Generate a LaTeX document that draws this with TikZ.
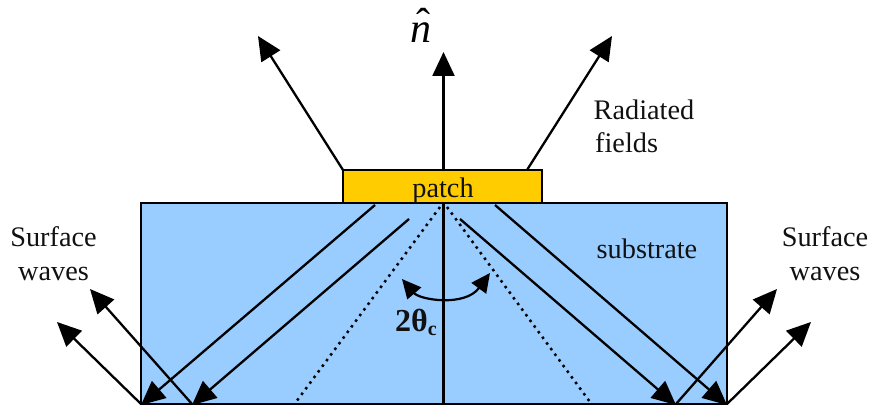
\documentclass[tikz,border=0pt]{standalone}
\usepackage{fontspec}
\setmainfont{Liberation Serif}
\usetikzlibrary{arrows.meta}
\definecolor{subblue}{HTML}{99CCFF}
\definecolor{patchyellow}{HTML}{FFCC00}
\definecolor{inkc}{HTML}{111111}
\tikzset{
  x=1pt,y=-1pt,
  box/.style={draw=black,line width=2.6pt,inner sep=0pt,outer sep=0pt},
  ray/.style={draw=black,line width=2.3pt,-{Triangle[length=24pt,width=22pt]}},
  plainline/.style={draw=black,line width=2.4pt},
  dotline/.style={draw=black,line width=2.5pt,dash pattern=on 2.5pt off 4.5pt},
  label/.style={inner sep=0pt,anchor=base,text=inkc,font=\fontsize{28.3}{28.3}\selectfont},
}
\begin{document}
\begin{tikzpicture}
\useasboundingbox (0,0) rectangle (871,406);
\node[box,fill=subblue,minimum width=586pt,minimum height=201pt] (substrate) at (434,303.5) {};
\node[box,fill=patchyellow,minimum width=199pt,minimum height=33pt] (patchbox) at (442.5,186.5) {};
% named ends
\coordinate (nb) at (443.5,170);
\coordinate (nt) at (443.5,52);
\coordinate (lb) at (343,170);
\coordinate (lt) at (258,36);
\coordinate (rb) at (527,170);
\coordinate (rt) at (612,36);
\coordinate (ct) at (443.5,203);
\coordinate (cb) at (443.5,404);
\coordinate (a1) at (375,205);
\coordinate (a2) at (141,405);
\coordinate (b1) at (409,219);
\coordinate (b2) at (192,405);
\coordinate (c1) at (495,205);
\coordinate (c2) at (727,405);
\coordinate (d1) at (460,219);
\coordinate (d2) at (676,405);
\coordinate (sl1) at (141,404);
\coordinate (sl1t) at (57,322);
\coordinate (sl2) at (192,404);
\coordinate (sl2t) at (90,289);
\coordinate (sr1) at (727,404);
\coordinate (sr1t) at (811,322);
\coordinate (sr2) at (676,404);
\coordinate (sr2t) at (777,289);
\coordinate (dl1) at (440,207);
\coordinate (dl2) at (296,402);
\coordinate (dr1) at (447,207);
\coordinate (dr2) at (590,402);
\coordinate (arcl) at (402,279);
\coordinate (arcr) at (490,273);
% lines
\draw[plainline] (ct) -- (cb);
\draw[dotline] (dl1) -- (dl2);
\draw[dotline] (dr1) -- (dr2);
\draw[ray] (nb) -- (nt);
\draw[ray] (lb) -- (lt);
\draw[ray] (rb) -- (rt);
\draw[ray] (a1) -- (a2);
\draw[ray] (b1) -- (b2);
\draw[ray] (c1) -- (c2);
\draw[ray] (d1) -- (d2);
\draw[ray] (sl1) -- (sl1t);
\draw[ray] (sl2) -- (sl2t);
\draw[ray] (sr1) -- (sr1t);
\draw[ray] (sr2) -- (sr2t);
\draw[draw=black,line width=2.2pt,{Triangle[length=19pt,width=18pt]}-{Triangle[length=19pt,width=18pt]}]
  (arcl) .. controls (420,300) and (465,307) .. (arcr);
% labels
\node[label] (patchlab) at (443,197.5) {patch};
\node[label] (sublab) at (647,258.5) {substrate};
\node[label] (rad) at (644,119.5) {Radiated};
\node[label,anchor=base west] (fld) at (595,153) {fields};
\node[label] (sl) at (53.5,247) {Surface};
\node[label] (wl) at (53.5,281) {waves};
\node[label] (sr) at (825,247) {Surface};
\node[label] (wr) at (825,281) {waves};
\node[label,font=\fontsize{32}{32}\selectfont\bfseries,anchor=base west] (theta) at (395,332) {2θ\raisebox{-4pt}{\fontsize{20}{20}\selectfont c}};
\node[label,font=\fontsize{42}{42}\selectfont\itshape,text=black] (nhat) at (421,43) {n\llap{\raisebox{5pt}{\upshape ˆ\kern1pt}}};
\end{tikzpicture}
\end{document}
